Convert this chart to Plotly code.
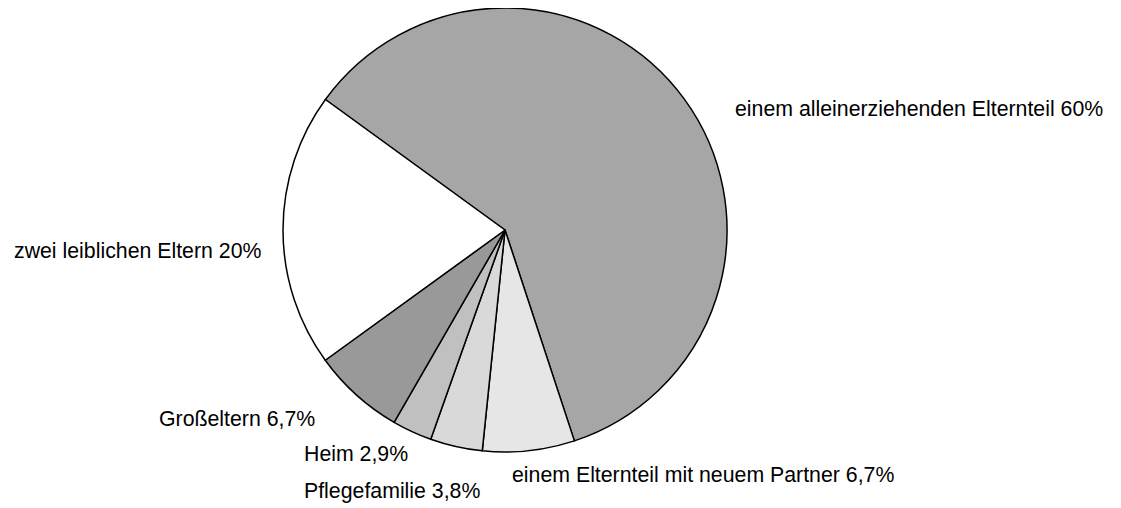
import plotly.graph_objects as go

labels = [
    "einem alleinerziehenden Elternteil",
    "einem Elternteil mit neuem Partner",
    "Pflegefamilie",
    "Heim",
    "Großeltern",
    "zwei leiblichen Eltern",
]
values = [60, 6.7, 3.8, 2.9, 6.7, 20]
value_text = ["60%", "6,7%", "3,8%", "2,9%", "6,7%", "20%"]
colors = ["#a6a6a6", "#e6e6e6", "#d9d9d9", "#c0c0c0", "#999999", "#ffffff"]

W, H = 1121, 508
OFF = 8  # page body margin

def px_x(x):
    return (x - OFF) / W

def px_y(y):
    return 1 - (y - OFF) / H

fig = go.Figure(go.Pie(
    labels=labels,
    values=values,
    sort=False,
    direction="clockwise",
    rotation=-54,
    marker=dict(colors=colors, line=dict(color="#000000", width=1.5)),
    textinfo="none",
    hoverinfo="label+value",
    showlegend=False,
    domain=dict(x=[px_x(283), px_x(727)], y=[px_y(452), px_y(8)]),
))

# label placement (pixel positions of left edge / vertical centre)
label_pos = [(733, 109), (510, 475), (302, 491), (302, 454), (157, 419), (12, 251)]
for lab, vt, (px, py) in zip(labels, value_text, label_pos):
    fig.add_annotation(
        x=px_x(px), y=px_y(py), xref="paper", yref="paper",
        xanchor="left", yanchor="middle", showarrow=False,
        text=f"{lab} {vt}",
        font=dict(family="Liberation Sans, Arial, sans-serif", size=21.3, color="#000000"),
    )

fig.update_layout(
    width=W, height=H,
    margin=dict(l=0, r=0, t=0, b=0),
    paper_bgcolor="#ffffff",
    plot_bgcolor="#ffffff",
)

fig.write_html("out.html")
